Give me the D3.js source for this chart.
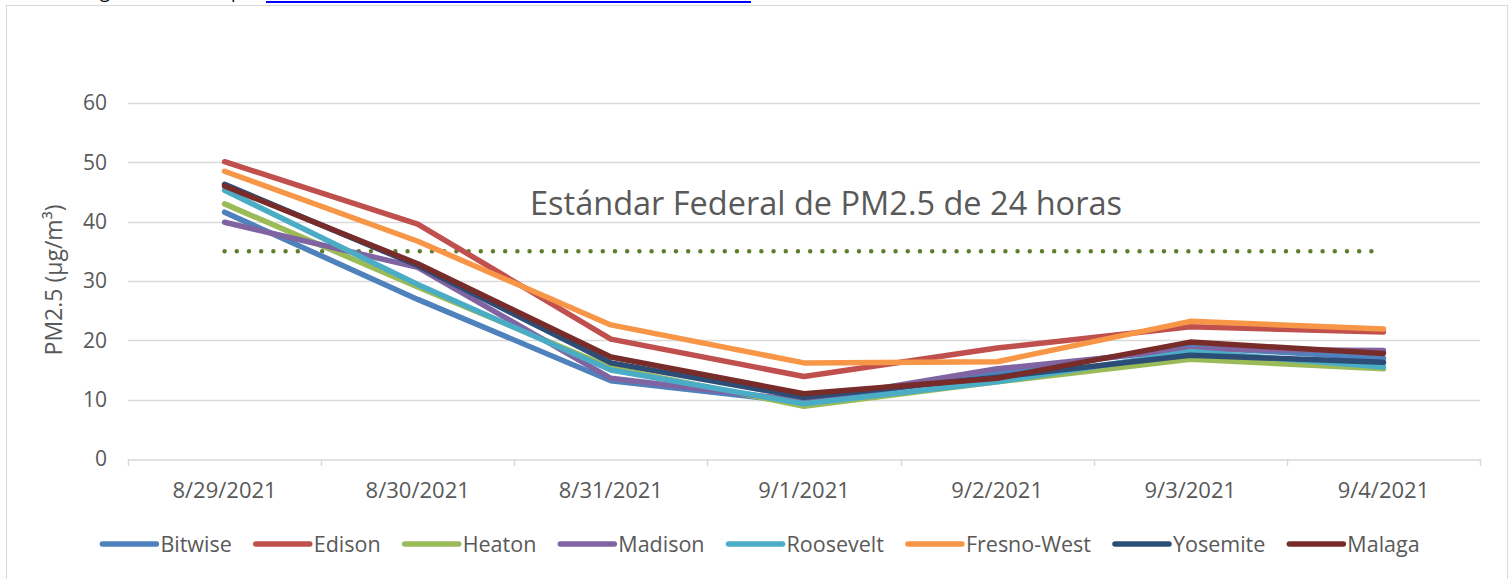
<!DOCTYPE html>
<html>
<head>
<meta charset="utf-8">
<script src="https://cdn.jsdelivr.net/npm/d3@7"></script>
<style>
  html, body { margin: 0; padding: 0; background: #fff; }
  svg { display: block; }
</style>
</head>
<body>
<svg id="chart" width="1509" height="579"></svg>
<script>
// ---- data ----
const categories = ["8/29/2021", "8/30/2021", "8/31/2021", "9/1/2021", "9/2/2021", "9/3/2021", "9/4/2021"];
const seriesNames = ["Bitwise", "Edison", "Heaton", "Madison", "Roosevelt", "Fresno-West", "Yosemite", "Malaga"];
const bitwise    = [41.6, 26.9, 13.2, 9.5, 14.6, 18.9, 17.0];
const edison     = [50.1, 39.6, 20.2, 13.9, 18.7, 22.3, 21.4];
const heaton     = [43.0, 29.0, 15.4, 8.9, 13.0, 16.8, 15.2];
const madison    = [39.9, 32.3, 13.6, 9.8, 15.2, 18.5, 18.3];
const roosevelt  = [45.3, 29.4, 15.0, 9.3, 13.0, 18.1, 15.5];
const fresnoWest = [48.5, 36.7, 22.6, 16.2, 16.4, 23.2, 21.9];
const yosemite   = [46.3, 32.6, 16.2, 10.4, 13.8, 17.5, 16.3];
const malaga     = [46.0, 32.9, 17.2, 11.0, 13.6, 19.7, 17.8];
const federalStandard = 35;
const yTicks = [0, 10, 20, 30, 40, 50, 60];
const standardLabel = "Estándar Federal de PM2.5 de 24 horas";
const yTitle = "PM2.5 (µg/m³)";

const seriesValues = [bitwise, edison, heaton, madison, roosevelt, fresnoWest, yosemite, malaga];
const colors = ["#4F81BD", "#C0504D", "#9BBB59", "#8064A2", "#4BACC6", "#F79646", "#2C4D75", "#772C2A"];
const series = seriesNames.map((n, i) => ({ name: n, values: seriesValues[i], color: colors[i] }));

// ---- layout ----
const svg = d3.select("#chart");
const font = "'Open Sans', sans-serif";
const textColor = "#595959";
const gridColor = "#d9d9d9";

// page fragments above the chart (cut off in the original)
svg.append("text").attr("x", 100).attr("y", -2).attr("font-family", font).attr("font-size", 18).attr("fill", "#000").text("g");
svg.append("text").attr("x", 231).attr("y", -2).attr("font-family", font).attr("font-size", 18).attr("fill", "#000").text("p");
svg.append("line").attr("x1", 266).attr("x2", 751).attr("y1", 2).attr("y2", 2).attr("stroke", "#0000FF").attr("stroke-width", 2);

// chart border
svg.append("rect").attr("x", 6.5).attr("y", 5.5).attr("width", 1501).attr("height", 600)
  .attr("fill", "none").attr("stroke", gridColor).attr("stroke-width", 1);

const x = d3.scaleBand().domain(categories).range([128, 1480]);
const y = d3.scaleLinear().domain([0, 60]).range([459, 103]);
const cx = c => x(c) + x.bandwidth() / 2;

// gridlines
svg.append("g").selectAll("line").data(yTicks.filter(t => t > 0)).join("line")
  .attr("x1", 128).attr("x2", 1480)
  .attr("y1", d => Math.round(y(d)) + 0.5).attr("y2", d => Math.round(y(d)) + 0.5)
  .attr("stroke", gridColor).attr("stroke-width", 1.5);

// y axis labels
const yAxis = d3.axisLeft(y).tickValues(yTicks).tickSize(0).tickPadding(0).tickFormat(d3.format("d"));
const yg = svg.append("g").attr("transform", "translate(107,0)").call(yAxis);
yg.select(".domain").remove();
yg.selectAll("text").attr("font-family", font).attr("font-size", 21).attr("fill", textColor);

// x axis
const xAxis = d3.axisBottom(x).tickSize(0).tickPadding(23);
const xg = svg.append("g").attr("transform", "translate(0,459.5)").call(xAxis);
xg.select(".domain").attr("stroke", gridColor).attr("stroke-width", 1.5);
xg.selectAll("text").attr("font-family", font).attr("font-size", 22).attr("fill", textColor);
// category boundary tick marks
const boundaries = categories.map(c => x(c)).concat([x(categories[categories.length - 1]) + x.bandwidth()]);
svg.append("g").selectAll("line").data(boundaries).join("line")
  .attr("x1", d => Math.round(d) + 0.5).attr("x2", d => Math.round(d) + 0.5)
  .attr("y1", 459).attr("y2", 466).attr("stroke", gridColor).attr("stroke-width", 1.5);

// y title
svg.append("text")
  .attr("transform", "translate(62,280) rotate(-90)")
  .attr("text-anchor", "middle")
  .attr("font-family", font).attr("font-size", 23).attr("fill", textColor)
  .text(yTitle);

// federal standard dotted line
svg.append("line")
  .attr("x1", cx(categories[0])).attr("x2", cx(categories[categories.length - 1]))
  .attr("y1", y(federalStandard)).attr("y2", y(federalStandard))
  .attr("stroke", "#5E7E2C").attr("stroke-width", 4.5)
  .attr("stroke-linecap", "round").attr("stroke-dasharray", "0 12.2");

// series lines
const line = d3.line().x((d, i) => cx(categories[i])).y(d => y(d));
svg.append("g").selectAll("path").data(series).join("path")
  .attr("d", d => line(d.values))
  .attr("fill", "none").attr("stroke", d => d.color).attr("stroke-width", 5.5)
  .attr("stroke-linejoin", "round").attr("stroke-linecap", "round");

// standard label
svg.append("text").attr("x", 826).attr("y", 215).attr("text-anchor", "middle")
  .attr("font-family", font).attr("font-size", 32.5).attr("fill", textColor)
  .text(standardLabel);

// legend
const lg = svg.append("g");
const items = lg.selectAll("g").data(series).join("g");
items.append("line").attr("x1", 0).attr("x2", 54).attr("y1", 0).attr("y2", 0)
  .attr("stroke", d => d.color).attr("stroke-width", 5.5).attr("stroke-linecap", "round");
items.append("text").attr("x", 58).attr("y", 7.5).attr("font-family", font).attr("font-size", 21.5)
  .attr("fill", textColor).text(d => d.name);
let pos = 0;
const offsets = [];
items.each(function () {
  offsets.push(pos);
  const w = d3.select(this).select("text").node().getComputedTextLength();
  pos += 58 + w + 24;
});
const totalW = pos - 24;
const startX = 761 - totalW / 2;
items.attr("transform", (d, i) => `translate(${startX + offsets[i]},544)`);
</script>
</body>
</html>
